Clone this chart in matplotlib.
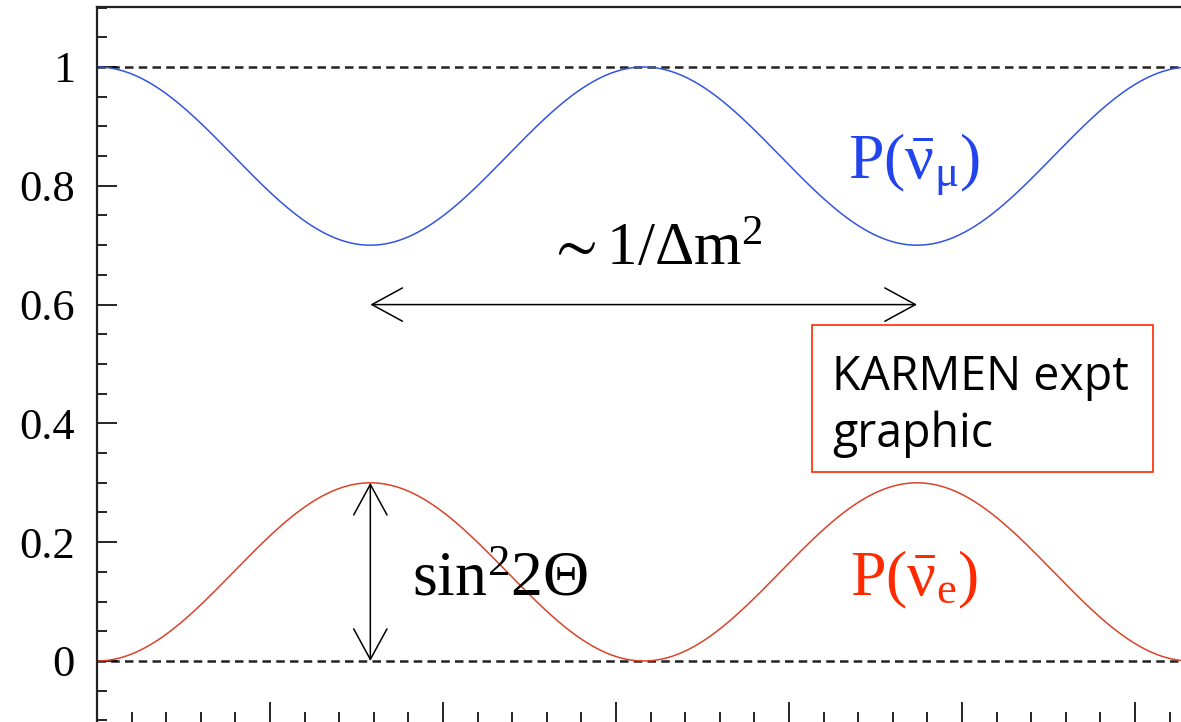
import numpy as np
import matplotlib
matplotlib.use("Agg")
import matplotlib.pyplot as plt
from matplotlib.patches import Rectangle
from matplotlib.ticker import MultipleLocator

# ---- data ----
sin2_2theta = 0.30          # oscillation amplitude
osc_length = 3.16           # x-distance between successive maxima (major-tick units)
x_range = [0.0, 6.266]
y_range = [-0.1027, 1.101]
y_ticks = [0, 0.2, 0.4, 0.6, 0.8, 1]
y_tick_labels = ["0", "0.2", "0.4", "0.6", "0.8", "1"]
ref_levels = [0, 1]
arrow_y = 0.6
label_mu = r"$\mathrm{P(\bar{\nu}_{\mu})}$"
label_e = r"$\mathrm{P(\bar{\nu}_{e})}$"
label_dm = r"$\sim\mathrm{1/\Delta m^{2}}$"
label_amp = r"$\mathrm{sin^{2}2\Theta}$"
box_text = "KARMEN expt\ngraphic"

plt.rcParams["mathtext.fontset"] = "custom"
plt.rcParams["mathtext.rm"] = "Liberation Serif"
plt.rcParams["mathtext.it"] = "Liberation Serif:italic"
plt.rcParams["mathtext.bf"] = "Liberation Serif:bold"
plt.rcParams["mathtext.fallback"] = "stix"
plt.rcParams["mathtext.default"] = "rm"

W, H = 1181, 722
fig = plt.figure(figsize=(W / 100, H / 100), dpi=100)
ax = fig.add_axes([97 / W, 0, (W - 97) / W, (H - 7) / H])
ax.set_xlim(*x_range)
ax.set_ylim(*y_range)

x = np.linspace(x_range[0], x_range[1], 1200)
p_e = sin2_2theta * np.sin(np.pi * x / osc_length) ** 2
p_mu = 1 - p_e

for lvl in ref_levels:
    ax.axhline(lvl, color="#222222", lw=1.8, dashes=(3.4, 2.1), zorder=1)

ax.plot(x, p_mu, color="#3355dd", lw=1.1, zorder=2)
ax.plot(x, p_e, color="#d94428", lw=1.1, zorder=2)

# arrows
x_max1 = osc_length / 2
x_max2 = 3 * osc_length / 2
astyle = dict(arrowstyle="<->,head_length=22,head_width=12", mutation_scale=1,
              color="black", lw=1.1, shrinkA=0, shrinkB=0)
ax.annotate("", xy=(x_max1, arrow_y), xytext=(x_max2, arrow_y), arrowprops=astyle)
ax.annotate("", xy=(x_max1, 0), xytext=(x_max1, sin2_2theta), arrowprops=astyle)

# labels
ax.text(4.34, 0.815, label_mu, color="#2244ee", fontsize=46, va="baseline", ha="left")
ax.text(4.353, 0.111, label_e, color="#ff2a00", fontsize=46, va="baseline", ha="left")
ax.text(2.60, 0.667, label_dm, color="black", fontsize=44, va="baseline", ha="left")
ax.text(1.821, 0.111, label_amp, color="black", fontsize=46, va="baseline", ha="left")

# KARMEN box (figure pixel coordinates)
fig.patches.append(Rectangle((812 / W, 1 - 472 / H), (1153 - 812) / W, (472 - 325) / H,
                             transform=fig.transFigure, facecolor="white",
                             edgecolor="#ff2a00", lw=1.2, zorder=5))
fig.text(832 / W, 1 - 447 / H, box_text, family="Open Sans", fontsize=33.5,
         va="baseline", ha="left", linespacing=1.25, zorder=6)

# axes styling
for s in ["right", "bottom"]:
    ax.spines[s].set_visible(False)
for s in ["left", "top"]:
    ax.spines[s].set_linewidth(1.6)
    ax.spines[s].set_color("#222222")

ax.set_yticks(y_ticks)
ax.set_yticklabels(y_tick_labels, family="Liberation Serif", fontsize=32)
ax.yaxis.set_minor_locator(MultipleLocator(0.05))
ax.xaxis.set_major_locator(MultipleLocator(1))
ax.xaxis.set_minor_locator(MultipleLocator(0.2))
ax.tick_params(axis="both", which="both", direction="in", color="black", width=1.2)
ax.tick_params(axis="both", which="major", length=14.4)
ax.tick_params(axis="both", which="minor", length=7.2)
ax.tick_params(axis="y", which="both", pad=16)
ax.tick_params(axis="x", which="both", labelbottom=False)

fig.savefig("out.png", dpi=100)
